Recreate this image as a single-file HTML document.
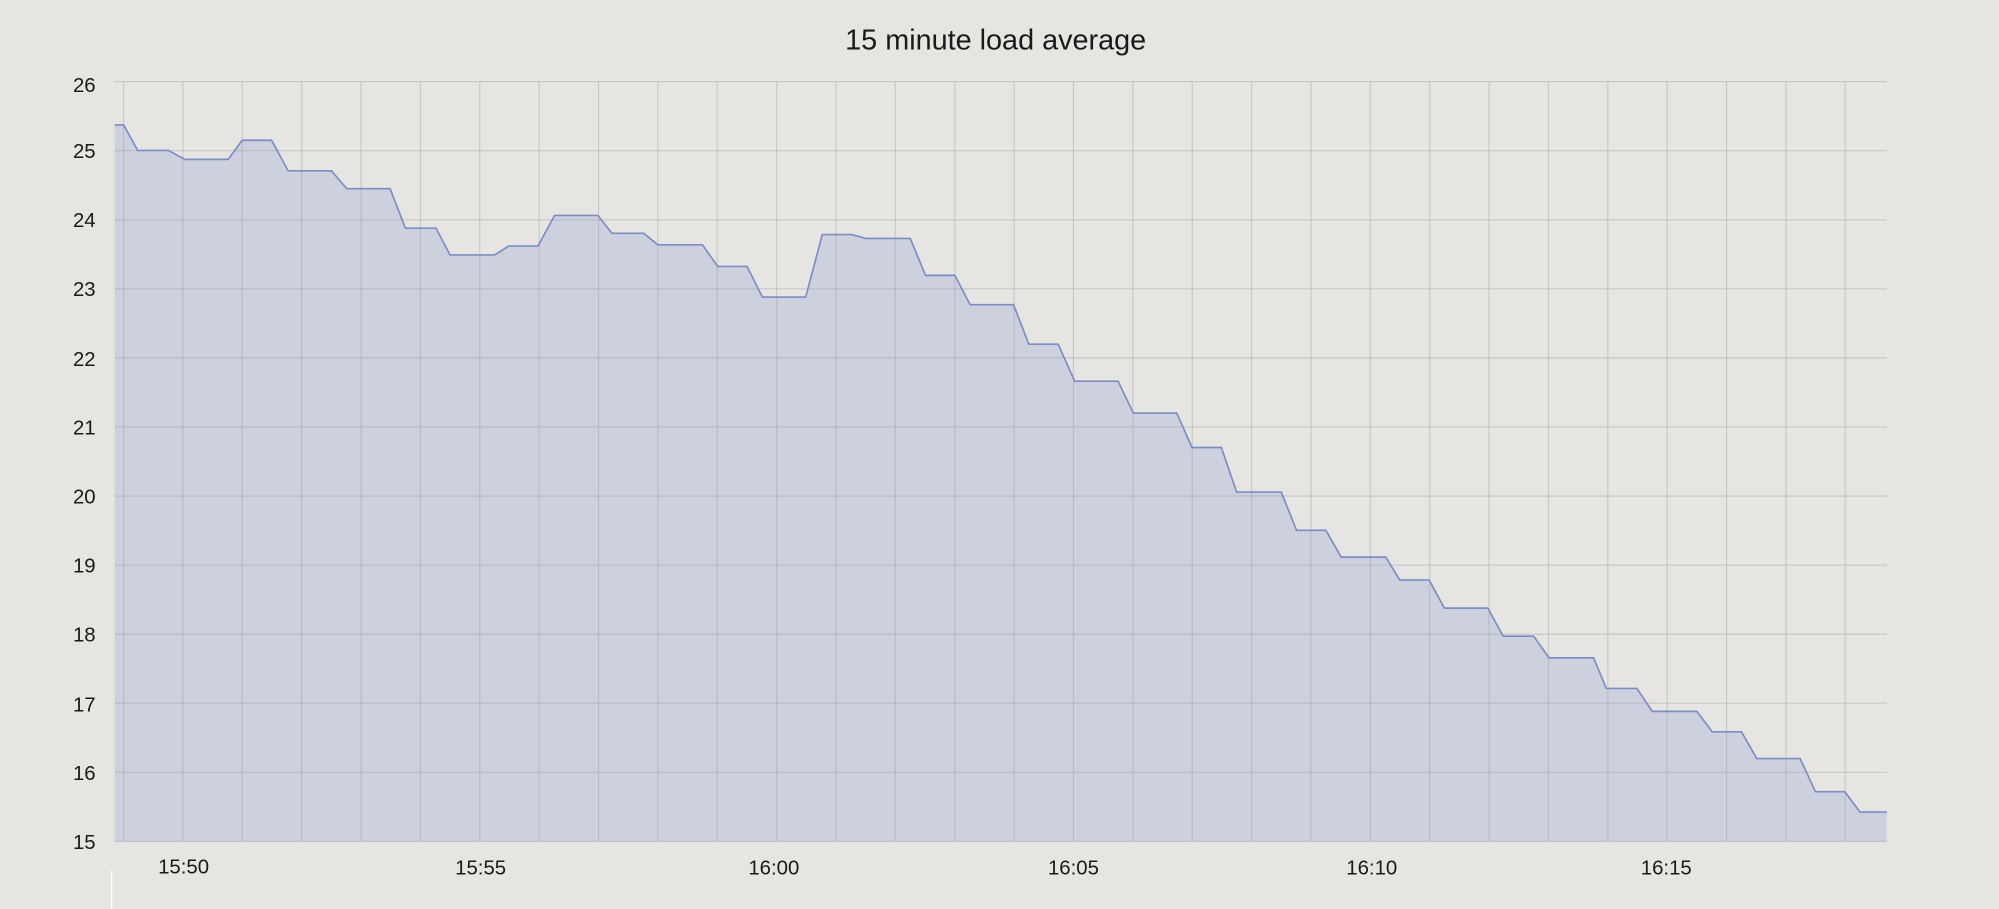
<!DOCTYPE html>
<html><head><meta charset="utf-8"><style>
html,body{margin:0;padding:0;background:#e6e5e1;}
svg{display:block;}
text{font-family:"Liberation Sans",sans-serif;fill:#1a1a1a;}
</style></head><body>
<svg width="1999" height="909" viewBox="0 0 1568 713" xmlns="http://www.w3.org/2000/svg">
<rect width="1568" height="713" fill="#e6e5e1"/>
<text x="781" y="39" font-size="22.6" text-anchor="middle">15 minute load average</text>
<polygon fill="#cdd1de" points="90,660 90,98 97,98 108,118 132,118 145,125 179,125 190,110 213,110 226,134 260,134 272,148 306,148 318,179 342,179 353,200 388,200 399,193 422,193 435,169 469,169 480,183 505,183 516,192 551,192 563,209 586,209 598,233 632,233 645,184 668,184 679,187 714,187 726,216 749,216 761,239 795,239 807,270 830,270 843,299 877,299 889,324 923,324 935,351 958,351 970,386 1005,386 1017,416 1040,416 1052,437 1087,437 1098,455 1121,455 1133,477 1167,477 1179,499 1203,499 1215,516 1250,516 1260,540 1284,540 1296,558 1331,558 1343,574 1366,574 1378,595 1412,595 1424,621 1447,621 1459,637 1480,637 1480,660"/>
<g stroke="#9a9a9a" stroke-opacity="0.4" stroke-width="0.9">
<line x1="90" x2="1480" y1="64" y2="64"/><line x1="90" x2="1480" y1="118.2" y2="118.2"/><line x1="90" x2="1480" y1="172.4" y2="172.4"/><line x1="90" x2="1480" y1="226.5" y2="226.5"/><line x1="90" x2="1480" y1="280.7" y2="280.7"/><line x1="90" x2="1480" y1="334.9" y2="334.9"/><line x1="90" x2="1480" y1="389.1" y2="389.1"/><line x1="90" x2="1480" y1="443.3" y2="443.3"/><line x1="90" x2="1480" y1="497.5" y2="497.5"/><line x1="90" x2="1480" y1="551.6" y2="551.6"/><line x1="90" x2="1480" y1="605.8" y2="605.8"/><line x1="90" x2="1480" y1="660" y2="660"/>
<line x1="96.9" x2="96.9" y1="64" y2="660"/><line x1="143.5" x2="143.5" y1="64" y2="660"/><line x1="190" x2="190" y1="64" y2="660"/><line x1="236.6" x2="236.6" y1="64" y2="660"/><line x1="283.2" x2="283.2" y1="64" y2="660"/><line x1="329.8" x2="329.8" y1="64" y2="660"/><line x1="376.3" x2="376.3" y1="64" y2="660"/><line x1="422.9" x2="422.9" y1="64" y2="660"/><line x1="469.5" x2="469.5" y1="64" y2="660"/><line x1="516" x2="516" y1="64" y2="660"/><line x1="562.6" x2="562.6" y1="64" y2="660"/><line x1="609.2" x2="609.2" y1="64" y2="660"/><line x1="655.7" x2="655.7" y1="64" y2="660"/><line x1="702.3" x2="702.3" y1="64" y2="660"/><line x1="748.9" x2="748.9" y1="64" y2="660"/><line x1="795.5" x2="795.5" y1="64" y2="660"/><line x1="842" x2="842" y1="64" y2="660"/><line x1="888.6" x2="888.6" y1="64" y2="660"/><line x1="935.2" x2="935.2" y1="64" y2="660"/><line x1="981.7" x2="981.7" y1="64" y2="660"/><line x1="1028.3" x2="1028.3" y1="64" y2="660"/><line x1="1074.9" x2="1074.9" y1="64" y2="660"/><line x1="1121.4" x2="1121.4" y1="64" y2="660"/><line x1="1168" x2="1168" y1="64" y2="660"/><line x1="1214.6" x2="1214.6" y1="64" y2="660"/><line x1="1261.2" x2="1261.2" y1="64" y2="660"/><line x1="1307.7" x2="1307.7" y1="64" y2="660"/><line x1="1354.3" x2="1354.3" y1="64" y2="660"/><line x1="1400.9" x2="1400.9" y1="64" y2="660"/><line x1="1447.4" x2="1447.4" y1="64" y2="660"/>
</g>
<polyline fill="none" stroke="#7b8dc6" stroke-width="1.3" points="90,98 97,98 108,118 132,118 145,125 179,125 190,110 213,110 226,134 260,134 272,148 306,148 318,179 342,179 353,200 388,200 399,193 422,193 435,169 469,169 480,183 505,183 516,192 551,192 563,209 586,209 598,233 632,233 645,184 668,184 679,187 714,187 726,216 749,216 761,239 795,239 807,270 830,270 843,299 877,299 889,324 923,324 935,351 958,351 970,386 1005,386 1017,416 1040,416 1052,437 1087,437 1098,455 1121,455 1133,477 1167,477 1179,499 1203,499 1215,516 1250,516 1260,540 1284,540 1296,558 1331,558 1343,574 1366,574 1378,595 1412,595 1424,621 1447,621 1459,637 1480,637"/>
<g font-size="16" text-anchor="end">
<text x="75" y="72">26</text><text x="75" y="124">25</text><text x="75" y="178">24</text><text x="75" y="232">23</text><text x="75" y="287">22</text><text x="75" y="341">21</text><text x="75" y="395">20</text><text x="75" y="449">19</text><text x="75" y="503">18</text><text x="75" y="558">17</text><text x="75" y="612">16</text><text x="75" y="666">15</text>
</g>
<g font-size="16" text-anchor="middle">
<text x="144" y="685">15:50</text><text x="377" y="686">15:55</text><text x="607" y="686">16:00</text><text x="842" y="686">16:05</text><text x="1076" y="686">16:10</text><text x="1307" y="686">16:15</text>
</g>
<line x1="87.5" x2="87.5" y1="683" y2="713" stroke="#ffffff" stroke-width="1.2"/>
</svg>
</body></html>
